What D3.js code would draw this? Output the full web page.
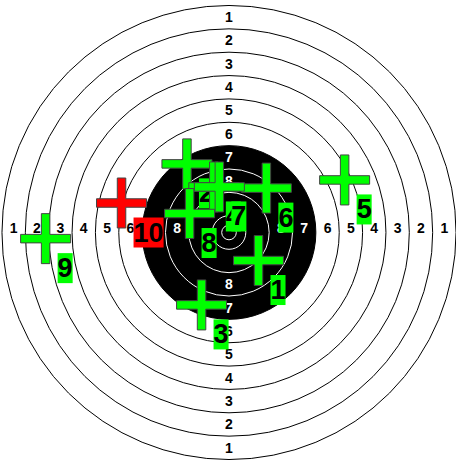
<!DOCTYPE html>
<html>
<head>
<meta charset="utf-8">
<script src="https://cdn.jsdelivr.net/npm/d3@7"></script>
<style>
  html, body { margin: 0; padding: 0; background: #fff; }
  svg { display: block; }
</style>
</head>
<body>
<svg id="chart" width="456" height="462"></svg>
<script>
// ---- data ----
const ringScores = [1, 2, 3, 4, 5, 6, 7, 8, 9, 10];
const ringRadii = [77.75, 69.75, 61.75, 53.75, 45.75, 37.75, 29.75, 21.75, 13.75, 5.75]; // mm
const innerTenRadius = 2.5; // mm
const blackFromScore = 7;
const labelledScores = [1, 2, 3, 4, 5, 6, 7, 8];
const shotLabels = ["1", "2", "3", "4", "5", "6", "7", "8", "9", "10"];
const shotX = [10.1, -14.4, -9.4, -5.2, 39.6, 12.8, -3.3, -13.5, -62.8, -36.8]; // mm
const shotY = [-9.6, 23.5, -24.8, 15.6, 18.0, 15.2, 15.6, 6.5, -2.1, 10.1];  // mm

// ---- layout ----
const svg = d3.select("#chart");
const cx = 229, cy = 232.5, k = 2.92, D = 80;
const x = d3.scaleLinear().domain([-D, D]).range([cx - D * k, cx + D * k]);
const y = d3.scaleLinear().domain([-D, D]).range([cy + D * k, cy - D * k]);
const rp = v => x(v) - x(0);

const target = svg.append("g");
ringScores.forEach((s, i) => {
  const inBlack = s > blackFromScore;
  target.append("circle")
    .attr("cx", x(0)).attr("cy", y(0)).attr("r", rp(ringRadii[i]))
    .attr("fill", s === blackFromScore ? "#000" : (s < blackFromScore ? "#fff" : "none"))
    .attr("stroke", inBlack ? "#fff" : "#000")
    .attr("stroke-width", 1);
});
target.append("circle")
  .attr("cx", x(0)).attr("cy", y(0)).attr("r", rp(innerTenRadius))
  .attr("fill", "none").attr("stroke", "#fff").attr("stroke-width", 1);

// ring number labels on four sides
const labelFont = "Arial, 'Liberation Sans', sans-serif";
labelledScores.forEach(s => {
  const i = ringScores.indexOf(s);
  const mid = ringRadii[i] - 4;
  const col = s >= blackFromScore ? "#fff" : "#000";
  const pts = [
    [x(0), y(mid), "0.35em"], [x(0), y(-mid), "0.35em"],
    [x(-mid), y(0), "0"], [x(mid), y(0), "0"]
  ];
  pts.forEach(p => {
    target.append("text")
      .attr("x", p[0]).attr("y", p[1]).attr("dy", p[2])
      .attr("text-anchor", "middle")
      .attr("font-family", labelFont).attr("font-weight", "bold")
      .attr("font-size", 14).attr("fill", col)
      .text(s);
  });
});

// shots
const armL = 25, armW = 4.25;
function plusPath(px, py) {
  const a = armL, w = armW;
  const p = d3.path();
  p.moveTo(px - w, py - a);
  p.lineTo(px + w, py - a);
  p.lineTo(px + w, py - w);
  p.lineTo(px + a, py - w);
  p.lineTo(px + a, py + w);
  p.lineTo(px + w, py + w);
  p.lineTo(px + w, py + a);
  p.lineTo(px - w, py + a);
  p.lineTo(px - w, py + w);
  p.lineTo(px - a, py + w);
  p.lineTo(px - a, py - w);
  p.lineTo(px - w, py - w);
  p.closePath();
  return p.toString();
}

const shots = svg.append("g");
shotLabels.forEach((lab, i) => {
  const px = x(shotX[i]), py = y(shotY[i]);
  const col = i === shotLabels.length - 1 ? "#ff0000" : "#00ff00";
  const g = shots.append("g");
  g.append("path").attr("d", plusPath(px, py))
    .attr("fill", col).attr("stroke", "#444").attr("stroke-width", 1);
  const rect = g.append("rect").attr("fill", col);
  const t = g.append("text")
    .attr("x", px + 12).attr("y", py + 38.5)
    .attr("font-family", labelFont).attr("font-weight", "bold")
    .attr("font-size", 27).attr("fill", "#000")
    .text(lab);
  const bb = t.node().getBBox();
  rect.attr("x", bb.x).attr("y", bb.y).attr("width", bb.width).attr("height", bb.height);
});
</script>
</body>
</html>
